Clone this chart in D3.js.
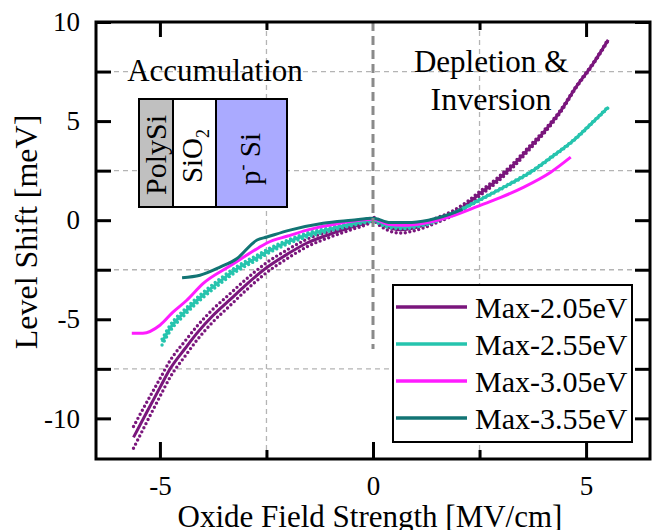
<!DOCTYPE html>
<html>
<head>
<meta charset="utf-8">
<script src="https://cdn.jsdelivr.net/npm/d3@7"></script>
<style>
  body { margin: 0; background: #fff; }
  svg { display: block; }
  text { font-family: "Liberation Serif", "Times New Roman", serif; fill: #000; }
</style>
</head>
<body>
<svg id="chart" width="655" height="530"></svg>
<script>
// ---- data ----
const seriesNames  = ["Max-2.05eV", "Max-2.55eV", "Max-3.05eV", "Max-3.55eV"];
const seriesColors = ["#7a167c", "#26c4ae", "#ff1cff", "#127474"];

// Max-2.05eV: mean curve and half-width of its error band
const purpleX = [-5.62, -5.3, -5.0, -4.76, -4.4, -4.13, -3.75, -3.35, -3.0, -2.5, -2.0, -1.55, -1.0, -0.5, -0.13, 0,
                 0.2, 0.45, 0.65, 0.9, 1.2, 1.5, 1.87, 2.2, 2.48, 2.9, 3.28, 3.65, 3.99, 4.4, 4.76, 5.15, 5.52];
const purpleY = [-10.96, -9.65, -8.45, -7.5, -6.45, -5.7, -4.8, -4.0, -3.3, -2.4, -1.7, -1.15, -0.7, -0.35, -0.1, 0.05,
                 -0.2, -0.42, -0.48, -0.42, -0.25, 0.0, 0.35, 0.8, 1.3, 2.0, 2.75, 3.6, 4.4, 5.5, 6.7, 7.85, 9.1];
const purpleSpread = [0.55, 0.5, 0.45, 0.42, 0.38, 0.35, 0.32, 0.3, 0.28, 0.25, 0.22, 0.19, 0.15, 0.12, 0.1, 0.1,
                 0.14, 0.17, 0.17, 0.15, 0.13, 0.12, 0.12, 0.12, 0.11, 0.1, 0.1, 0.09, 0.08, 0.06, 0.04, 0.04, 0.04];

// Max-2.55eV
const tealX = [-4.95, -4.76, -4.4, -4.0, -3.6, -3.19, -2.69, -2.49, -2.0, -1.55, -1.0, -0.5, 0,
               0.3, 0.7, 1.2, 1.8, 2.48, 3.1, 3.75, 4.2, 4.69, 5.16, 5.52];
const tealY = [-6.15, -5.45, -4.6, -3.8, -3.1, -2.45, -1.85, -1.6, -1.1, -0.75, -0.45, -0.2, 0.0,
               -0.25, -0.35, -0.2, 0.25, 1.0, 1.7, 2.5, 3.2, 4.0, 4.95, 5.7];
const tealSpread = [0.15, 0.15, 0.14, 0.13, 0.13, 0.12, 0.12, 0.11, 0.1, 0.1, 0.09, 0.08, 0.08,
               0.08, 0.08, 0.06, 0.04, 0.03, 0.03, 0.03, 0.03, 0.03, 0.03, 0.03];

// Max-3.05eV
const magentaX = [-5.66, -5.4, -5.0, -4.7, -4.37, -3.99, -3.35, -2.69, -2.49, -2.0, -1.55, -0.77, 0,
                  0.35, 0.72, 1.2, 1.82, 2.53, 3.0, 3.54, 4.17, 4.64];
const magentaY = [-5.7, -5.7, -5.3, -4.65, -4.04, -3.2, -2.3, -1.4, -1.15, -0.8, -0.5, -0.15, 0.05,
                  -0.2, -0.25, -0.15, 0.18, 0.76, 1.15, 1.67, 2.42, 3.18];

// Max-3.55eV
const darkTealX = [-4.48, -4.06, -3.59, -3.19, -2.72, -2.49, -1.95, -1.17, -0.5, 0, 0.4, 0.8, 1.3, 1.8, 2.1];
const darkTealY = [-2.9, -2.78, -2.37, -1.93, -1.0, -0.85, -0.5, -0.15, 0.0, 0.1, -0.12, -0.12, 0.0, 0.3, 0.55];

const xMajorTicks = [-5, 0, 5];
const xMinorTicks = [-2.5, 2.5];
const yMajorTicks = [-10, -5, 0, 5, 10];
const yMinorTicks = [-7.5, -2.5, 2.5, 7.5];

// ---- layout ----
const svg = d3.select("#chart");
const L = 96, R = 650, T = 22, B = 459;
const serif = '"Liberation Serif", "Times New Roman", serif';
const x = d3.scaleLinear().domain([-6.5, 6.5]).range([L, R]);
const y = d3.scaleLinear().domain([-12.05, 10]).range([B, T]);

svg.append("defs").append("clipPath").attr("id", "plotClip")
  .append("rect").attr("x", L).attr("y", T).attr("width", R - L).attr("height", B - T);

// grid at the minor positions
const grid = svg.append("g").attr("stroke", "#b4b4b4").attr("stroke-width", 1.3)
  .attr("stroke-dasharray", "5,4");
grid.selectAll(".gx").data(xMinorTicks).join("line")
  .attr("x1", d => x(d)).attr("x2", d => x(d)).attr("y1", T).attr("y2", B);
grid.selectAll(".gy").data(yMinorTicks).join("line")
  .attr("y1", d => y(d)).attr("y2", d => y(d)).attr("x1", L).attr("x2", R);

// curves
const plot = svg.append("g").attr("clip-path", "url(#plotClip)");
const line = d3.line().x(d => x(d[0])).y(d => y(d[1])).curve(d3.curveMonotoneX);
const zip = (xs, ys) => xs.map((v, i) => [v, ys[i]]);

function band(xs, ys, spread, color) {
  const up = xs.map((v, i) => [v, ys[i] + spread[i]]);
  const lo = xs.map((v, i) => [v, ys[i] - spread[i]]);
  [up, lo].forEach(pts => {
    plot.append("path").attr("d", line(pts)).attr("fill", "none")
      .attr("stroke", color).attr("stroke-width", 3.4)
      .attr("stroke-linecap", "round").attr("stroke-dasharray", "0,4.6");
  });
}

band(purpleX, purpleY, purpleSpread, seriesColors[0]);
plot.append("path").attr("d", line(zip(purpleX, purpleY))).attr("fill", "none")
  .attr("stroke", seriesColors[0]).attr("stroke-width", 3);

band(tealX, tealY, tealSpread, seriesColors[1]);
plot.append("path").attr("d", line(zip(tealX, tealY))).attr("fill", "none")
  .attr("stroke", seriesColors[1]).attr("stroke-width", 3);

plot.append("path").attr("d", line(zip(magentaX, magentaY))).attr("fill", "none")
  .attr("stroke", seriesColors[2]).attr("stroke-width", 3);

plot.append("path").attr("d", line(zip(darkTealX, darkTealY))).attr("fill", "none")
  .attr("stroke", seriesColors[3]).attr("stroke-width", 3);

// flat-band marker at zero field
svg.append("line").attr("x1", x(0)).attr("x2", x(0)).attr("y1", y(10)).attr("y2", y(-6.5))
  .attr("stroke", "#8a8a8a").attr("stroke-width", 3).attr("stroke-dasharray", "9,5");

// axes (inward ticks)
function styleAxis(g, fontSize) {
  g.attr("font-family", serif);
  g.select(".domain").remove();
  g.selectAll(".tick line").attr("stroke", "#000").attr("stroke-width", 3);
  g.selectAll(".tick text").attr("font-size", fontSize).attr("font-family", serif).attr("fill", "#000");
}
const noLabel = () => "";
const plain = d => String(d);

svg.append("g").attr("transform", `translate(0,${B})`)
  .call(d3.axisBottom(x).tickValues(xMajorTicks).tickSize(-17).tickPadding(17).tickFormat(plain))
  .call(g => styleAxis(g, 27));
svg.append("g").attr("transform", `translate(0,${B})`)
  .call(d3.axisBottom(x).tickValues(xMinorTicks).tickSize(-9).tickFormat(noLabel))
  .call(g => styleAxis(g, 27));
svg.append("g").attr("transform", `translate(0,${T})`)
  .call(d3.axisTop(x).tickValues([-5, 5]).tickSize(-15).tickFormat(noLabel))
  .call(g => styleAxis(g, 27));
svg.append("g").attr("transform", `translate(0,${T})`)
  .call(d3.axisTop(x).tickValues(xMinorTicks).tickSize(-8).tickFormat(noLabel))
  .call(g => styleAxis(g, 27));

svg.append("g").attr("transform", `translate(${L},0)`)
  .call(d3.axisLeft(y).tickValues(yMajorTicks).tickSize(-15).tickPadding(16).tickFormat(plain))
  .call(g => styleAxis(g, 27));
svg.append("g").attr("transform", `translate(${L},0)`)
  .call(d3.axisLeft(y).tickValues(yMinorTicks).tickSize(-15).tickFormat(noLabel))
  .call(g => styleAxis(g, 27));
svg.append("g").attr("transform", `translate(${R},0)`)
  .call(d3.axisRight(y).tickValues(yMajorTicks.concat(yMinorTicks)).tickSize(-15).tickFormat(noLabel))
  .call(g => styleAxis(g, 27));

// frame
svg.append("rect").attr("x", L).attr("y", T).attr("width", R - L).attr("height", B - T)
  .attr("fill", "none").attr("stroke", "#000").attr("stroke-width", 3);

// axis titles
svg.append("text").attr("x", (L + R) / 2 - 3).attr("y", 527).attr("text-anchor", "middle")
  .attr("font-size", 31).text("Oxide Field Strength [MV/cm]");
svg.append("text").attr("transform", "translate(37,232) rotate(-90)").attr("text-anchor", "middle")
  .attr("font-size", 32).text("Level Shift [meV]");

// region annotations
svg.append("text").attr("x", 215).attr("y", 81).attr("text-anchor", "middle")
  .attr("font-size", 31).text("Accumulation");
svg.append("text").attr("x", 491).attr("y", 72).attr("text-anchor", "middle")
  .attr("font-size", 31).text("Depletion &");
svg.append("text").attr("x", 491).attr("y", 110).attr("text-anchor", "middle")
  .attr("font-size", 32).text("Inversion");

// MOS stack sketch
const stack = svg.append("g");
const layers = [
  { x0: 139, x1: 173, fill: "#c0c0c0" },
  { x0: 173, x1: 216, fill: "#ffffff" },
  { x0: 216, x1: 287, fill: "#aaaaff" }
];
stack.selectAll("rect").data(layers).join("rect")
  .attr("x", d => d.x0).attr("y", 99).attr("width", d => d.x1 - d.x0).attr("height", 108)
  .attr("fill", d => d.fill).attr("stroke", "#000").attr("stroke-width", 2);

stack.append("text").attr("transform", "translate(166,155) rotate(-90)")
  .attr("text-anchor", "middle").attr("font-size", 30).text("PolySi");
const t2 = stack.append("text").attr("transform", "translate(202,156) rotate(-90)")
  .attr("text-anchor", "middle").attr("font-size", 29);
t2.append("tspan").text("SiO");
t2.append("tspan").attr("font-size", 18).attr("dy", 7).text("2");
const t3 = stack.append("text").attr("transform", "translate(260,159) rotate(-90)")
  .attr("text-anchor", "middle").attr("font-size", 29);
t3.append("tspan").text("p");
t3.append("tspan").attr("font-size", 18).attr("dy", -12).text("-");
t3.append("tspan").attr("dy", 12).text(" Si");

// legend
const lg = svg.append("g");
lg.append("rect").attr("x", 393).attr("y", 285).attr("width", 239).attr("height", 157)
  .attr("fill", "#fff").attr("stroke", "#000").attr("stroke-width", 2);
const rowY = [307, 344, 381, 418];
seriesNames.forEach((name, i) => {
  lg.append("line").attr("x1", 396).attr("x2", 467).attr("y1", rowY[i]).attr("y2", rowY[i])
    .attr("stroke", seriesColors[i]).attr("stroke-width", 3.5);
  lg.append("text").attr("x", 475).attr("y", rowY[i]).attr("dy", "0.35em")
    .attr("font-size", 30).text(name);
});
</script>
</body>
</html>
